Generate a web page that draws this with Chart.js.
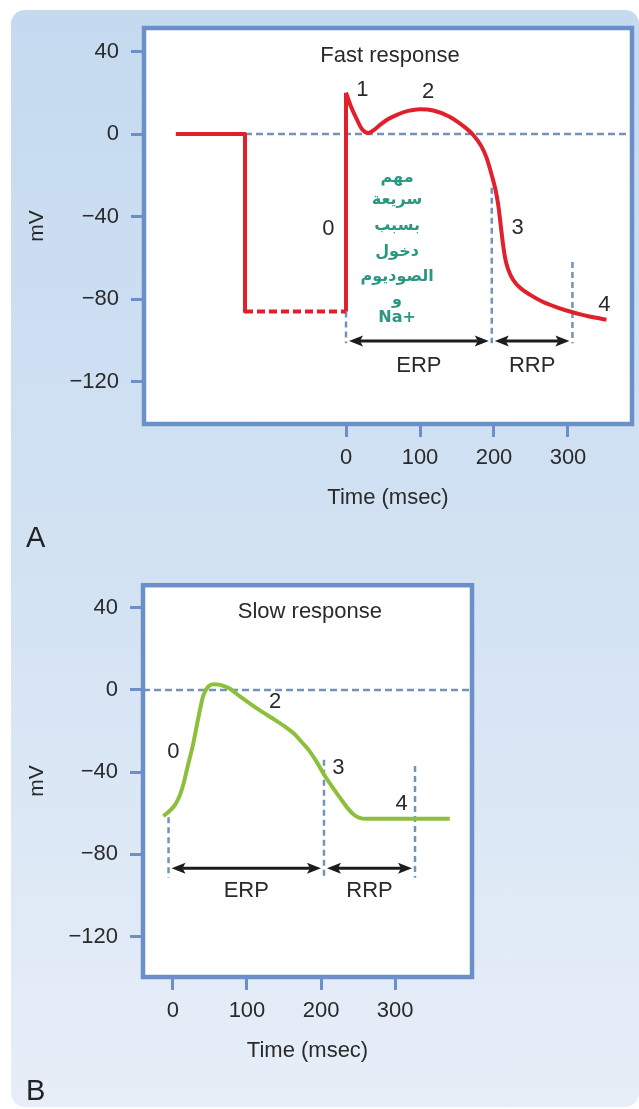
<!DOCTYPE html>
<html>
<head>
<meta charset="utf-8">
<script src="https://cdn.jsdelivr.net/npm/chart.js@4.4.1/dist/chart.umd.min.js"></script>
<style>
  html, body { margin: 0; padding: 0; background: #fff; }
  #page { position: relative; width: 639px; height: 1109px; overflow: hidden; }
  #panel {
    position: absolute; left: 11px; top: 10px; width: 628px; height: 1097px;
    border-radius: 14px;
    background: linear-gradient(#c5daf0, #d2e2f3 50%, #e7eef8);
  }
  canvas { position: absolute; left: 0; }
  #cA { top: 0; }
  #cB { top: 560px; }
  .tag { position: absolute; left: 26px; font: 29px/29px "Liberation Sans", Arial, sans-serif; color: #222; }
</style>
</head>
<body>
<div id="page">
  <div id="panel"></div>
  <canvas id="cA" width="639" height="560"></canvas>
  <canvas id="cB" width="639" height="549"></canvas>
  <div class="tag" style="top:523px">A</div>
  <div class="tag" style="top:1076px">B</div>
</div>
<script>
// ---- shared axis ticks ----
const mvTicks = [40, 0, -40, -80, -120];
const timeTicks = [0, 100, 200, 300];

// ---- A: fast response ----
const fastRestTime = [-230, -136.5, -136.5];
const fastRestMv   = [0, 0, -86];
const fastHoldTime = [-136.5, 0];
const fastHoldMv   = [-86, -86];
const fastUpTime   = [0, 0];
const fastUpMv     = [-86, 20];
const fastApTime = [0, 6, 14, 21, 30, 38, 46, 56, 68, 84, 100, 118, 140, 158, 172, 183, 190, 197, 202, 206, 209, 212, 215, 219, 226, 236, 249, 265, 285, 305, 321, 336, 352];
const fastApMv   = [20, 14, 7.6, 2.7, 0.5, 2, 4.4, 7, 9.2, 11.2, 12, 11.4, 8.4, 4, -0.5, -6, -11.6, -20, -27, -35, -44, -53, -60, -65.5, -70.8, -74.8, -78, -81.2, -84, -86.3, -87.8, -89, -90];
const fastZeroTime = [-136.5, 386.5];
const fastMarkTime = [0, 197, 306];
const fastMarkTop  = [-86, -26, -62];
const fastMarkBottom = -101.5;
const fastSpanLabels = ['ERP', 'RRP'];
const fastSpanMv = -100.4;
const fastSpanTextMv = -112.5;
const fastPhaseText = ['0', '1', '2', '3', '4'];
const fastPhaseTime = [-24, 22, 111, 232, 349];
const fastPhaseMv   = [-46, 21.3, 20.4, -45.5, -83];
const fastNoteLines = ['مهم', 'سريعة', 'بسبب', 'دخول', 'الصوديوم', 'و', 'Na+'];
const fastNoteMv    = [-21.3, -32, -44.6, -57.2, -69.3, -80.5, -89.2];
const fastNoteTime  = 69;

// ---- B: slow response ----
const slowTime = [-13, -5, 3, 9, 14, 20, 27, 34, 41, 48, 55, 62, 70, 77, 90, 104, 120, 135, 150, 163, 175, 185, 195, 203, 214, 226, 236, 244, 252, 262, 290, 330, 374];
const slowMv   = [-61.4, -59, -55.8, -51.5, -46, -37, -26.7, -14, -2.6, 1.8, 2.8, 2.6, 1.8, 0.6, -3, -6.6, -10.5, -13.9, -17.5, -21.1, -25.8, -30, -35.5, -40.5, -46.5, -52.6, -57.5, -60.6, -62.2, -62.7, -62.7, -62.7, -62.7];
const slowZeroTime = [-40.5, 404];
const slowMarkTime = [-6, 204, 327];
const slowMarkTop  = [-62, -34, -37];
const slowMarkBottom = -91.4;
const slowSpanLabels = ['ERP', 'RRP'];
const slowSpanMv = -86.8;
const slowSpanTextMv = -97.6;
const slowPhaseText = ['0', '2', '3', '4'];
const slowPhaseTime = [0.4, 138, 223.5, 309];
const slowPhaseMv   = [-30, -5.8, -38, -55.7];

// ---- styles ----
const FONT = '"Liberation Sans", Arial, Helvetica, sans-serif';
const INK = '#2a2a2a';
const FRAME = '#6b8fc8';
const REF = '#7393b9';
const RED = '#e0202a';
const GREEN = '#8cc03c';

Chart.defaults.font.family = FONT;
Chart.defaults.font.size = 22;
Chart.defaults.color = INK;

const pts = (xs, ys) => xs.map((x, i) => ({ x, y: ys[i] }));

function lineSet(xs, ys, color, extra) {
  return Object.assign({
    data: pts(xs, ys), borderColor: color, borderWidth: 4, pointRadius: 0,
    tension: 0, fill: false, borderCapStyle: 'butt', borderJoinStyle: 'round'
  }, extra || {});
}

function markerSets(times, tops, bottom) {
  return times.map((t, i) => lineSet([t, t], [tops[i], bottom], REF, { borderWidth: 2.5, borderDash: [6, 4] }));
}

function drawArrow(ctx, x1, x2, y) {
  const head = 14, half = 5.5;
  ctx.beginPath();
  ctx.moveTo(x1 + head - 3, y); ctx.lineTo(x2 - head + 3, y);
  ctx.stroke();
  ctx.beginPath();
  ctx.moveTo(x1, y); ctx.lineTo(x1 + head, y - half); ctx.lineTo(x1 + head - 3, y); ctx.lineTo(x1 + head, y + half);
  ctx.closePath(); ctx.fill();
  ctx.beginPath();
  ctx.moveTo(x2, y); ctx.lineTo(x2 - head, y - half); ctx.lineTo(x2 - head + 3, y); ctx.lineTo(x2 - head, y + half);
  ctx.closePath(); ctx.fill();
}

function panelPlugin(spec) {
  return {
    id: 'panelDecor',
    beforeDraw(chart) {
      const { ctx, chartArea: a } = chart;
      ctx.save();
      ctx.fillStyle = '#fff';
      ctx.fillRect(a.left, a.top, a.right - a.left, a.bottom - a.top);
      ctx.restore();
    },
    afterDatasetsDraw(chart) {
      const { ctx } = chart;
      const xs = chart.scales.x, ys = chart.scales.y;
      ctx.save();
      // refractory period arrows
      ctx.strokeStyle = '#1c1c1c'; ctx.fillStyle = '#1c1c1c'; ctx.lineWidth = 3;
      const ay = ys.getPixelForValue(spec.spanMv);
      for (let i = 0; i < spec.spanLabels.length; i++) {
        const x1 = xs.getPixelForValue(spec.markTime[i]) + 3;
        const x2 = xs.getPixelForValue(spec.markTime[i + 1]) - 3;
        drawArrow(ctx, x1, x2, ay);
      }
      ctx.font = '22px ' + FONT;
      ctx.fillStyle = INK; ctx.textAlign = 'center'; ctx.textBaseline = 'middle';
      const ty = ys.getPixelForValue(spec.spanTextMv);
      spec.spanLabels.forEach((lab, i) => {
        const cx = (xs.getPixelForValue(spec.markTime[i]) + xs.getPixelForValue(spec.markTime[i + 1])) / 2;
        ctx.fillText(lab, cx, ty);
      });
      // phase numbers
      spec.phaseText.forEach((s, i) => {
        ctx.fillText(s, xs.getPixelForValue(spec.phaseTime[i]), ys.getPixelForValue(spec.phaseMv[i]));
      });
      // panel heading
      ctx.fillText(spec.heading, xs.getPixelForValue(spec.headingTime), ys.getPixelForValue(spec.headingMv));
      // handwritten note
      if (spec.noteLines) {
        ctx.fillStyle = '#2a9782';
        ctx.font = 'bold 16px "DejaVu Sans", sans-serif';
        spec.noteLines.forEach((s, i) => {
          ctx.fillText(s, xs.getPixelForValue(spec.noteTime), ys.getPixelForValue(spec.noteMv[i]));
        });
      }
      ctx.restore();
    },
    afterDraw(chart) {
      const { ctx, chartArea: a } = chart;
      ctx.save();
      ctx.strokeStyle = FRAME; ctx.lineWidth = 4.5;
      ctx.strokeRect(a.left, a.top, a.right - a.left, a.bottom - a.top);
      ctx.restore();
    }
  };
}

function buildChart(id, spec) {
  return new Chart(document.getElementById(id), {
    type: 'line',
    data: { datasets: spec.datasets },
    options: {
      responsive: false, animation: false, devicePixelRatio: 1,
      layout: { padding: spec.pad },
      plugins: { legend: { display: false }, tooltip: { enabled: false } },
      elements: { point: { radius: 0, hoverRadius: 0 } },
      scales: {
        x: {
          type: 'linear', min: spec.xMin, max: spec.xMax,
          afterBuildTicks: s => { s.ticks = timeTicks.map(v => ({ value: v })); },
          afterFit: s => { s.height = 87; },
          grid: { drawOnChartArea: false, drawTicks: true, tickLength: 13, color: FRAME, lineWidth: 3 },
          border: { display: false },
          ticks: { autoSkip: false, maxRotation: 0, padding: 8, color: INK, font: { size: 22 } },
          title: { display: true, text: 'Time (msec)', color: INK, font: { size: 22 }, padding: 0 }
        },
        y: {
          type: 'linear', min: spec.yMin, max: spec.yMax,
          afterBuildTicks: s => { s.ticks = mvTicks.map(v => ({ value: v })); },
          afterFit: s => { s.width = spec.axisWidth; },
          grid: { drawOnChartArea: false, drawTicks: true, tickLength: 13, color: FRAME, lineWidth: 3 },
          border: { display: false },
          ticks: {
            autoSkip: false, padding: 12, color: INK, font: { size: 22 },
            callback: v => (v < 0 ? '\u2212' + Math.abs(v) : String(v))
          },
          title: { display: true, text: 'mV', color: INK, font: { size: 21 }, padding: { top: 25, bottom: 0 } }
        }
      }
    },
    plugins: [panelPlugin(spec)]
  });
}

buildChart('cA', {
  pad: { left: 0, top: 28, right: 7, bottom: 49 },
  axisWidth: 144,
  xMin: -273, xMax: 386.5, yMin: -140.6, yMax: 51.4,
  datasets: [
    lineSet(fastUpTime, fastUpMv, RED),
    lineSet(fastApTime, fastApMv, RED, { cubicInterpolationMode: 'monotone' }),
    lineSet(fastRestTime, fastRestMv, RED),
    lineSet(fastHoldTime, fastHoldMv, RED, { borderDash: [8, 4] }),
    lineSet(fastZeroTime, [0, 0], REF, { borderWidth: 2.5, borderDash: [7, 4] }),
    ...markerSets(fastMarkTime, fastMarkTop, fastMarkBottom)
  ],
  markTime: fastMarkTime, spanLabels: fastSpanLabels, spanMv: fastSpanMv, spanTextMv: fastSpanTextMv,
  phaseText: fastPhaseText, phaseTime: fastPhaseTime, phaseMv: fastPhaseMv,
  heading: 'Fast response', headingTime: 59.5, headingMv: 37.8,
  noteLines: fastNoteLines, noteTime: fastNoteTime, noteMv: fastNoteMv
});

buildChart('cB', {
  pad: { left: 0, top: 22.5, right: 167, bottom: 45 },
  axisWidth: 143,
  xMin: -40.5, xMax: 404, yMin: -139.7, yMax: 51.0,
  datasets: [
    lineSet(slowTime, slowMv, GREEN, { cubicInterpolationMode: 'monotone' }),
    lineSet(slowZeroTime, [0, 0], REF, { borderWidth: 2.5, borderDash: [7, 4] }),
    ...markerSets(slowMarkTime, slowMarkTop, slowMarkBottom)
  ],
  markTime: slowMarkTime, spanLabels: slowSpanLabels, spanMv: slowSpanMv, spanTextMv: slowSpanTextMv,
  phaseText: slowPhaseText, phaseTime: slowPhaseTime, phaseMv: slowPhaseMv,
  heading: 'Slow response', headingTime: 185, headingMv: 38.2
});
</script>
</body>
</html>
